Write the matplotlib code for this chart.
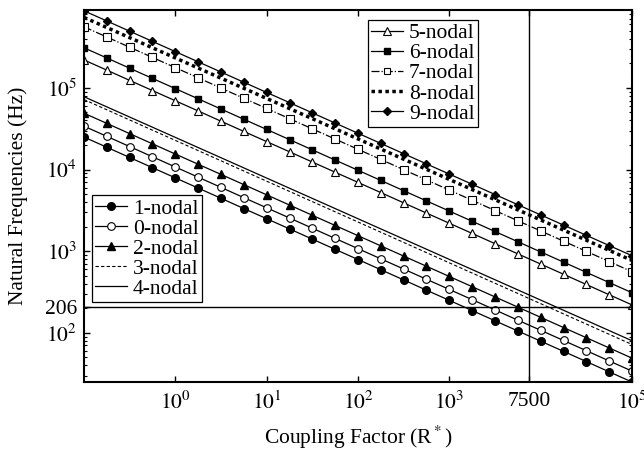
import matplotlib
matplotlib.use("Agg")
import matplotlib.pyplot as plt
from matplotlib.ticker import FixedLocator, FixedFormatter, NullLocator, LogLocator

plt.rcParams['font.family'] = 'serif'
plt.rcParams['font.serif'] = ['Liberation Serif', 'DejaVu Serif']
plt.rcParams['mathtext.fontset'] = 'stix'

# coupling factor R* where the markers sit (quarter decades)
R = [0.1, 0.178, 0.316, 0.562, 1, 1.78, 3.16, 5.62,
     10, 17.8, 31.6, 56.2, 100, 178, 316, 562,
     1000, 1780, 3160, 5620, 10000, 17800, 31600, 56200, 100000]
R_ends = [0.1, 100000]

# natural frequencies (Hz)
f1 = [25000, 18750, 14060, 10540, 7910, 5930, 4450, 3330,
      2500, 1875, 1406, 1054, 791, 593, 445, 333,
      250, 187.5, 140.6, 105.4, 79.1, 59.3, 44.5, 33.3, 25]
f0 = [34000, 25500, 19120, 14340, 10750, 8060, 6050, 4530,
      3400, 2550, 1912, 1434, 1075, 806, 605, 453,
      340, 255, 191, 143, 107.5, 80.6, 60.5, 45.3, 34]
f2 = [49000, 36750, 27550, 20660, 15490, 11610, 8720, 6540,
      4900, 3675, 2755, 2066, 1549, 1161, 872, 654,
      490, 367.5, 275.5, 206.6, 154.9, 116.1, 87.2, 65.4, 49]
f3 = [72000, 72]
f4 = [78000, 80]
f5 = [220000, 165000, 123700, 92800, 69600, 52200, 39100, 29300,
      22000, 16500, 12370, 9280, 6960, 5220, 3910, 2930,
      2200, 1650, 1237, 928, 696, 522, 391, 293, 220]
f6 = [310000, 232500, 174300, 130700, 98000, 73500, 55100, 41300,
      31000, 23250, 17430, 13070, 9800, 7350, 5510, 4130,
      3100, 2325, 1743, 1307, 980, 735, 551, 413, 310]
f7 = [560000, 420000, 314900, 236200, 177100, 132800, 99600, 74700,
      56000, 42000, 31490, 23620, 17710, 13280, 9960, 7470,
      5600, 4200, 3149, 2362, 1771, 1328, 996, 747, 560]
f8 = [730000, 770]
f9 = [880000, 660000, 494800, 371100, 278300, 208700, 156500, 117300,
      88000, 66000, 49480, 37110, 27830, 20870, 15650, 11730,
      8800, 6600, 4948, 3711, 2783, 2087, 1565, 1173, 880]

R_design = 7500
f_design = 206

xtick_vals = [1, 10, 100, 1000, 7500, 100000]
xtick_labels = ['$10^0$', '$10^1$', '$10^2$', '$10^3$', '7500', '$10^5$']
ytick_vals = [100, 206, 1000, 10000, 100000]
ytick_labels = ['$10^2$', '206', '$10^3$', '$10^4$', '$10^5$']

fs = 15.5

fig = plt.figure(figsize=(6.44, 4.5), dpi=100)
ax = fig.add_axes([0.1304, 0.1511, 0.851, 0.8267])

lw = 0.9
h1, = ax.plot(R, f1, '-o', color='k', lw=lw, ms=5.5, label='1-nodal')
h0, = ax.plot(R, f0, '-o', color='k', lw=lw, ms=5.5, mfc='white', mew=0.8, label='0-nodal')
h2, = ax.plot(R, f2, '-^', color='k', lw=lw, ms=6, label='2-nodal')
h3, = ax.plot(R_ends, f3, '--', color='k', lw=0.8, dashes=(3, 2), label='3-nodal')
h4, = ax.plot(R_ends, f4, '-', color='k', lw=lw, label='4-nodal')
h5, = ax.plot(R, f5, '-^', color='k', lw=lw, ms=6, mfc='white', mew=0.8, label='5-nodal')
h6, = ax.plot(R, f6, '-s', color='k', lw=lw, ms=5, label='6-nodal')
h7, = ax.plot(R, f7, '-.s', color='k', lw=lw, ms=5.3, mfc='white', mew=0.8, label='7-nodal')
h8, = ax.plot(R_ends, f8, ':', color='k', lw=2.5, dashes=(1, 1), label='8-nodal')
h9, = ax.plot(R, f9, '-D', color='k', lw=lw, ms=4.3, label='9-nodal')

ax.axvline(R_design, color='k', lw=1)
ax.axhline(f_design, color='k', lw=1)

ax.set_xscale('log')
ax.set_yscale('log')
ax.set_xlim(0.1, 100000)
ax.set_ylim(25, 9.0e5)

ax.xaxis.set_major_locator(FixedLocator(xtick_vals))
ax.xaxis.set_major_formatter(FixedFormatter(xtick_labels))
ax.xaxis.set_minor_locator(NullLocator())
ax.yaxis.set_major_locator(FixedLocator(ytick_vals))
ax.yaxis.set_major_formatter(FixedFormatter(ytick_labels))
ax.yaxis.set_minor_locator(LogLocator(base=10, subs=range(2, 10)))

ax.tick_params(which='both', direction='in', top=True, right=True, labelsize=fs)
ax.tick_params(which='major', length=4, width=1, pad=5)
ax.tick_params(axis='x', which='major', pad=7)
ax.tick_params(which='minor', length=2, width=0.8)
for s in ax.spines.values():
    s.set_linewidth(1.5)

ax.set_xlabel('Coupling Factor (R$^*$)', fontsize=fs, labelpad=7)
ax.set_ylabel('Natural Frequencies (Hz)', fontsize=fs, labelpad=12)

leg1 = ax.legend(handles=[h1, h0, h2, h3, h4], loc='lower left',
                 bbox_to_anchor=(0.0146, 0.215), borderaxespad=0, fontsize=fs,
                 handlelength=1.5, handletextpad=0.25, labelspacing=0.0,
                 borderpad=0.15, fancybox=False, framealpha=1, edgecolor='k',
                 numpoints=1)
leg1.get_frame().set_linewidth(0.9)
ax.add_artist(leg1)
leg2 = ax.legend(handles=[h5, h6, h7, h8, h9], loc='upper left',
                 bbox_to_anchor=(0.518, 0.973), borderaxespad=0, fontsize=fs,
                 handlelength=1.5, handletextpad=0.25, labelspacing=0.0,
                 borderpad=0.15, fancybox=False, framealpha=1, edgecolor='k',
                 numpoints=1, markerscale=0.85)
leg2.get_frame().set_linewidth(0.9)

fig.savefig('out.png', dpi=100)
